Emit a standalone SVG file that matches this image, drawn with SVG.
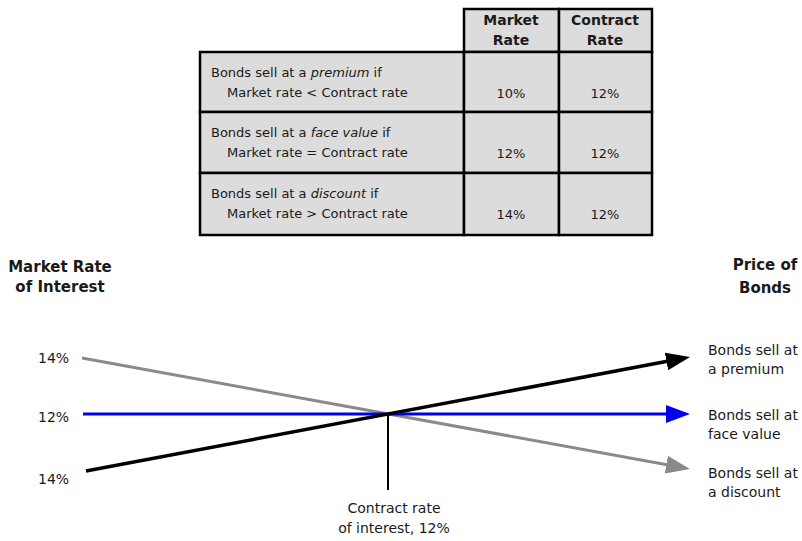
<svg xmlns="http://www.w3.org/2000/svg" width="802" height="541" viewBox="0 0 802 541">
<style>
.cell{fill:#dcdcdc;stroke:#000;stroke-width:2.5}
.t{font-family:"DejaVu Sans",Verdana,sans-serif;font-size:13px;fill:#1a1a1a}
.th{font-family:"DejaVu Sans",Verdana,sans-serif;font-size:14px;font-weight:bold;fill:#1a1a1a;text-anchor:middle}
.num{font-family:"DejaVu Sans",Verdana,sans-serif;font-size:13px;fill:#1a1a1a;text-anchor:middle}
.lab{font-family:"DejaVu Sans",Verdana,sans-serif;font-size:14px;fill:#1a1a1a}
.bl{font-family:"DejaVu Sans",Verdana,sans-serif;font-size:15px;font-weight:bold;fill:#1a1a1a;text-anchor:middle}
</style>
<defs>
<marker id="ak" markerUnits="userSpaceOnUse" markerWidth="26" markerHeight="20" refX="9" refY="9" orient="auto"><path d="M0,0 L24,9 L0,18 z" fill="#000"/></marker>
<marker id="ab" markerUnits="userSpaceOnUse" markerWidth="26" markerHeight="20" refX="9" refY="9" orient="auto"><path d="M0,0 L24,9 L0,18 z" fill="#0000ee"/></marker>
<marker id="ag" markerUnits="userSpaceOnUse" markerWidth="26" markerHeight="20" refX="9" refY="9" orient="auto"><path d="M0,0 L24,9 L0,18 z" fill="#8a8a8a"/></marker>
</defs>
<rect width="802" height="541" fill="#fff"/>
<g id="table">
<rect class="cell" x="464" y="9" width="95" height="43"/>
<rect class="cell" x="559" y="9" width="93" height="43"/>
<text class="th" x="511" y="25">Market</text>
<text class="th" x="511" y="45">Rate</text>
<text class="th" x="605" y="25">Contract</text>
<text class="th" x="605" y="45">Rate</text>
<g id="row1">
<rect class="cell" x="200" y="52" width="264" height="60"/>
<rect class="cell" x="464" y="52" width="95" height="60"/>
<rect class="cell" x="559" y="52" width="93" height="60"/>
<text class="t" x="211" y="77">Bonds sell at a <tspan font-style="italic">premium</tspan> if</text>
<text class="t" x="227" y="97">Market rate &lt; Contract rate</text>
<text class="num" x="511" y="98">10%</text>
<text class="num" x="605" y="98">12%</text>
</g>
<g id="row2">
<rect class="cell" x="200" y="112" width="264" height="61"/>
<rect class="cell" x="464" y="112" width="95" height="61"/>
<rect class="cell" x="559" y="112" width="93" height="61"/>
<text class="t" x="211" y="137">Bonds sell at a <tspan font-style="italic">face value</tspan> if</text>
<text class="t" x="227" y="157">Market rate = Contract rate</text>
<text class="num" x="511" y="158">12%</text>
<text class="num" x="605" y="158">12%</text>
</g>
<g id="row3">
<rect class="cell" x="200" y="173" width="264" height="62"/>
<rect class="cell" x="464" y="173" width="95" height="62"/>
<rect class="cell" x="559" y="173" width="93" height="62"/>
<text class="t" x="211" y="198">Bonds sell at a <tspan font-style="italic">discount</tspan> if</text>
<text class="t" x="227" y="218">Market rate &gt; Contract rate</text>
<text class="num" x="511" y="219">14%</text>
<text class="num" x="605" y="219">12%</text>
</g>
</g>
<g id="connectors">
<line x1="82" y1="358" x2="675.2" y2="466.3" stroke="#8a8a8a" stroke-width="3" marker-end="url(#ag)"/>
<line x1="83" y1="414" x2="675" y2="414" stroke="#0000ee" stroke-width="3" marker-end="url(#ab)"/>
<line x1="86" y1="471" x2="675.3" y2="359.8" stroke="#000" stroke-width="3.5" marker-end="url(#ak)"/>
<line x1="388" y1="414" x2="388" y2="490" stroke="#000" stroke-width="2"/>
</g>
<g id="left-axis">
<text class="bl" x="60" y="272">Market Rate</text>
<text class="bl" x="60" y="292">of Interest</text>
<text class="lab" x="38" y="363">14%</text>
<text class="lab" x="38" y="422">12%</text>
<text class="lab" x="38" y="484">14%</text>
</g>
<g id="contract-label">
<text class="lab" x="394" y="513" text-anchor="middle">Contract rate</text>
<text class="lab" x="394" y="533" text-anchor="middle">of interest, 12%</text>
</g>
<g id="right-axis">
<text class="bl" x="765" y="270">Price of</text>
<text class="bl" x="765" y="293">Bonds</text>
<text class="lab" x="708" y="355">Bonds sell at</text>
<text class="lab" x="708" y="374">a premium</text>
<text class="lab" x="708" y="420">Bonds sell at</text>
<text class="lab" x="708" y="439">face value</text>
<text class="lab" x="708" y="478">Bonds sell at</text>
<text class="lab" x="708" y="497">a discount</text>
</g>
</svg>
